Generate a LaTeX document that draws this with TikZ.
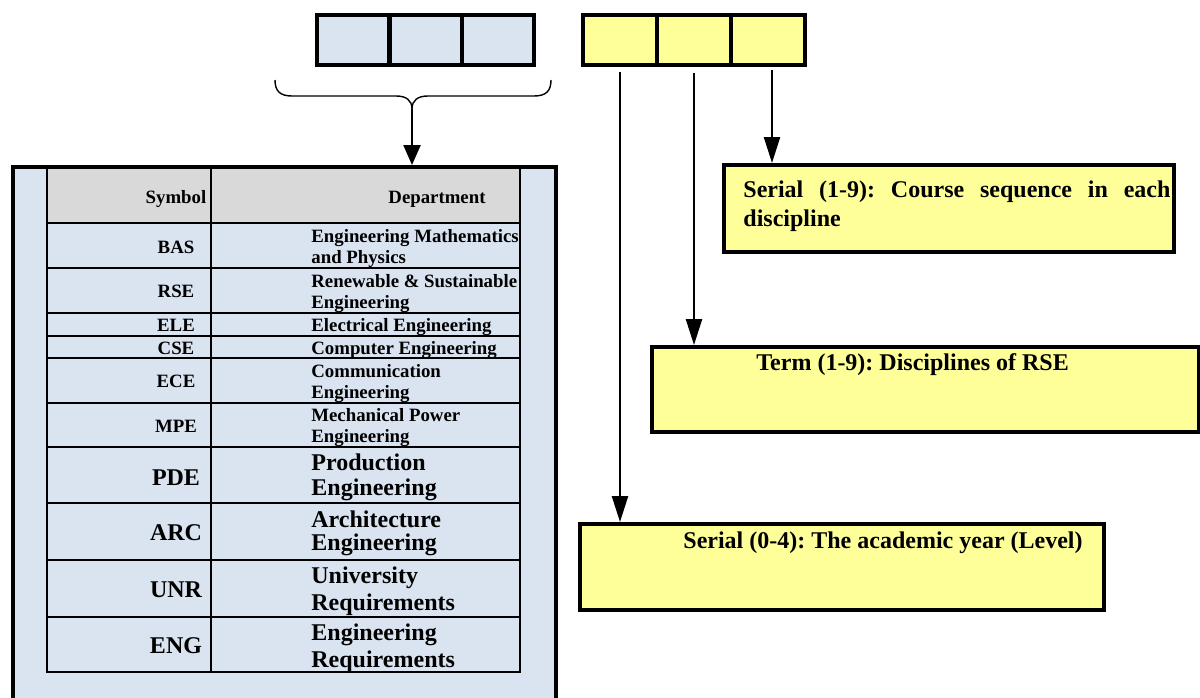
\documentclass[tikz,border=0pt]{standalone}
\usepackage{fontspec}
\setmainfont{Liberation Serif}
\usetikzlibrary{arrows.meta}
\definecolor{lblue}{HTML}{DAE3F0}
\definecolor{lyel}{HTML}{FFFF99}
\definecolor{hgray}{HTML}{D9D9D9}
\frenchspacing
\tikzset{
  topcell/.style={draw, line width=2pt, minimum height=25pt, inner sep=0pt, anchor=north west},
  bcell/.style={topcell, fill=lblue, minimum width=36.2pt},
  ycell/.style={topcell, fill=lyel, minimum width=37pt},
  infobox/.style={draw, line width=2pt, fill=lyel, inner sep=0pt, anchor=north west},
  arr/.style={line width=1.2pt, -{Triangle[length=13pt,width=8pt]}},
  barr/.style={line width=1.2pt, -{Triangle[length=10pt,width=8.5pt]}},
  tgrid/.style={line width=1pt},
  smtxt/.style={inner sep=0pt, font=\bfseries\fontsize{9.4}{11}\selectfont},
  bgtxt/.style={inner sep=0pt, font=\bfseries\fontsize{12}{14}\selectfont},
  symsm/.style={smtxt, anchor=base},
  symbg/.style={bgtxt, anchor=base},
  depsm/.style={smtxt, anchor=base west},
  depbg/.style={bgtxt, anchor=base west},
  boxtxt/.style={bgtxt, anchor=base west},
}
\begin{document}
\begin{tikzpicture}[x=0.5pt,y=-0.5pt]
\useasboundingbox (0,0) rectangle (1200,697);
\clip (0,0) rectangle (1200,697);
\fill[white] (0,0) rectangle (1200,697);

% top code cells
\node[bcell] (a1) at (315,13) {};
\node[bcell] (a2) at (388,13) {};
\node[bcell] (a3) at (460,13) {};
\node[ycell] (y1) at (581,13) {};
\node[ycell] (y2) at (655,13) {};
\node[ycell] (y3) at (729,13) {};

% brace
\coordinate (bt) at (412,109);
\draw[line width=0.7pt] (275,80) .. controls (275,91) and (280,96) .. (292,96)
  -- (396,96) .. controls (406,96) and (412,100) .. (bt)
  .. controls (412,100) and (418,96) .. (428,96)
  -- (534,96) .. controls (546,96) and (551,91) .. (551,80);

% outer department box
\node[draw, line width=2pt, fill=lblue, inner sep=0pt, anchor=north west,
      minimum width=271.75pt, minimum height=280pt] (outer) at (10.5,165) {};

\draw[barr] (bt) -- (bt |- outer.north);

% table
\fill[hgray] (47,168) rectangle (520,223);
\draw[tgrid] (47,168) rectangle (520,672);
\draw[tgrid] (211,168) -- (211,672);
\foreach \yy in {223,268,313,336,358,403,447,503,560,617}
  \draw[tgrid] (47,\yy) -- (520,\yy);

\node[symsm] (hsym) at (176,203) {Symbol};
\node[symsm] (hdep) at (437,203) {Department};

\foreach \nm/\yy/\tx in {sBAS/253/BAS, sRSE/297/RSE, sELE/331/ELE, sCSE/354/CSE, sECE/387/ECE, sMPE/432/MPE}
  \node[symsm, name=\nm] at (176,\yy) {\tx};
\foreach \nm/\yy/\tx in {sPDE/485/PDE, sARC/540/ARC, sUNR/597/UNR, sENG/653/ENG}
  \node[symbg, name=\nm] at (176,\yy) {\tx};

\foreach \nm/\yy/\tx in {d1a/242/Engineering Mathematics, d1b/263/and Physics,
    d2a/287/Renewable \& Sustainable, d2b/308/Engineering,
    d3/331/Electrical Engineering, d4/354/Computer Engineering,
    d5a/377/Communication, d5b/398/Engineering,
    d6a/421/Mechanical Power, d6b/442/Engineering}
  \node[depsm, name=\nm] at (311,\yy) {\tx};
\foreach \nm/\yy/\tx in {d7a/470/Production, d7b/495/Engineering,
    d8a/527/Architecture, d8b/550/Engineering,
    d9a/583/University, d9b/610/Requirements,
    d10a/640/Engineering, d10b/667/Requirements}
  \node[depbg, name=\nm] at (311,\yy) {\tx};

% right info boxes
\node[infobox, minimum width=225pt, minimum height=43.5pt] (b1) at (722,163) {};
\node[infobox, minimum width=273.5pt, minimum height=42.5pt] (b2) at (650,345) {};
\node[infobox, minimum width=262pt, minimum height=43pt] (b3) at (578,522) {};

\node[boxtxt] (t1a) at (743,197) {\makebox[213.5pt][s]{Serial (1-9): Course sequence in each}};
\node[boxtxt] (t1b) at (743,226) {discipline};
\node[boxtxt] (t2) at (756,370) {Term (1-9): Disciplines of RSE};
\node[boxtxt] (t3) at (683,548) {Serial (0-4): The academic year (Level)};

% arrows from yellow cells
\draw[arr] ([yshift=-2.5pt]y1.south) -- (y1.south |- b3.north);
\draw[arr] ([yshift=-3pt]y2.south) -- (y2.south |- b2.north);
\draw[arr] ([xshift=2pt,yshift=-1.5pt]y3.south) -- ([xshift=2pt]y3.south |- b1.north);
\end{tikzpicture}
\end{document}
